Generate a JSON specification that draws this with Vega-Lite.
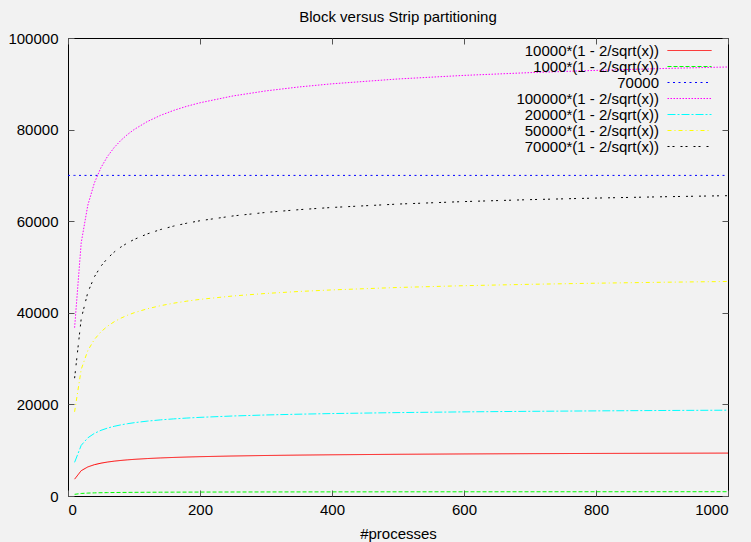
{
  "$schema": "https://vega.github.io/schema/vega-lite/v6.json",
  "width": 660,
  "height": 458,
  "autosize": {"type": "none"},
  "padding": {"left": 68, "top": 38, "right": 23, "bottom": 46},
  "background": "#f2f2f2",
  "title": {"text": "Block versus Strip partitioning", "fontSize": 15, "font": "Liberation Sans", "fontWeight": "normal", "color": "#000", "frame": "group", "offset": 6, "anchor": "middle"},
  "data": {"values": [
    {"x": 0, "c70000": 70000},
    {"x": 10, "k1000": 368, "k10000": 3675, "k20000": 7351, "k50000": 18377, "k70000": 25728, "k100000": 36754, "c70000": 70000},
    {"x": 20, "k1000": 553, "k10000": 5528, "k20000": 11056, "k50000": 27639, "k70000": 38695, "k100000": 55279, "c70000": 70000},
    {"x": 30, "k1000": 635, "k10000": 6349, "k20000": 12697, "k50000": 31743, "k70000": 44440, "k100000": 63485, "c70000": 70000},
    {"x": 40, "k1000": 684, "k10000": 6838, "k20000": 13675, "k50000": 34189, "k70000": 47864, "k100000": 68377, "c70000": 70000},
    {"x": 50, "k1000": 717, "k10000": 7172, "k20000": 14343, "k50000": 35858, "k70000": 50201, "k100000": 71716, "c70000": 70000},
    {"x": 60, "k1000": 742, "k10000": 7418, "k20000": 14836, "k50000": 37090, "k70000": 51926, "k100000": 74180, "c70000": 70000},
    {"x": 70, "k1000": 761, "k10000": 7610, "k20000": 15219, "k50000": 38048, "k70000": 53267, "k100000": 76095, "c70000": 70000},
    {"x": 80, "k1000": 776, "k10000": 7764, "k20000": 15528, "k50000": 38820, "k70000": 54347, "k100000": 77639, "c70000": 70000},
    {"x": 90, "k1000": 789, "k10000": 7892, "k20000": 15784, "k50000": 39459, "k70000": 55243, "k100000": 78918, "c70000": 70000},
    {"x": 100, "k1000": 800, "k10000": 8000, "k20000": 16000, "k50000": 40000, "k70000": 56000, "k100000": 80000, "c70000": 70000},
    {"x": 120, "k1000": 817, "k10000": 8174, "k20000": 16349, "k50000": 40872, "k70000": 57220, "k100000": 81743, "c70000": 70000},
    {"x": 140, "k1000": 831, "k10000": 8310, "k20000": 16619, "k50000": 41548, "k70000": 58168, "k100000": 83097, "c70000": 70000},
    {"x": 160, "k1000": 842, "k10000": 8419, "k20000": 16838, "k50000": 42094, "k70000": 58932, "k100000": 84189, "c70000": 70000},
    {"x": 180, "k1000": 851, "k10000": 8509, "k20000": 17019, "k50000": 42546, "k70000": 59565, "k100000": 85093, "c70000": 70000},
    {"x": 200, "k1000": 859, "k10000": 8586, "k20000": 17172, "k50000": 42929, "k70000": 60101, "k100000": 85858, "c70000": 70000},
    {"x": 250, "k1000": 874, "k10000": 8735, "k20000": 17470, "k50000": 43675, "k70000": 61146, "k100000": 87351, "c70000": 70000},
    {"x": 300, "k1000": 885, "k10000": 8845, "k20000": 17691, "k50000": 44226, "k70000": 61917, "k100000": 88453, "c70000": 70000},
    {"x": 350, "k1000": 893, "k10000": 8931, "k20000": 17862, "k50000": 44655, "k70000": 62517, "k100000": 89310, "c70000": 70000},
    {"x": 400, "k1000": 900, "k10000": 9000, "k20000": 18000, "k50000": 45000, "k70000": 63000, "k100000": 90000, "c70000": 70000},
    {"x": 500, "k1000": 911, "k10000": 9106, "k20000": 18211, "k50000": 45528, "k70000": 63739, "k100000": 91056, "c70000": 70000},
    {"x": 600, "k1000": 918, "k10000": 9184, "k20000": 18367, "k50000": 45918, "k70000": 64285, "k100000": 91835, "c70000": 70000},
    {"x": 700, "k1000": 924, "k10000": 9244, "k20000": 18488, "k50000": 46220, "k70000": 64709, "k100000": 92441, "c70000": 70000},
    {"x": 800, "k1000": 929, "k10000": 9293, "k20000": 18586, "k50000": 46464, "k70000": 65050, "k100000": 92929, "c70000": 70000},
    {"x": 900, "k1000": 933, "k10000": 9333, "k20000": 18667, "k50000": 46667, "k70000": 65333, "k100000": 93333, "c70000": 70000},
    {"x": 1000, "k1000": 937, "k10000": 9368, "k20000": 18735, "k50000": 46838, "k70000": 65573, "k100000": 93675, "c70000": 70000}
  ]},
  "transform": [
    {"fold": ["k10000", "k1000", "c70000", "k100000", "k20000", "k50000", "k70000"], "as": ["series", "y"]},
    {"filter": "isValid(datum.y)"}
  ],
  "layer": [
    {
      "mark": {"type": "line", "strokeWidth": 1, "interpolate": "linear"},
      "encoding": {
        "x": {"field": "x", "type": "quantitative",
          "scale": {"domain": [0, 1000], "nice": false, "zero": false},
          "axis": {"orient": "bottom", "values": [0, 200, 400, 600, 800, 1000], "format": "d", "title": "#processes", "grid": false, "domain": false, "tickSize": -6, "labelPadding": 12, "titlePadding": 9}},
        "y": {"field": "y", "type": "quantitative",
          "scale": {"domain": [0, 100000], "nice": false},
          "axis": {"orient": "left", "values": [0, 20000, 40000, 60000, 80000, 100000], "title": null, "grid": false, "domain": false, "tickSize": -6, "labelPadding": 16, "format": "d"}},
        "color": {"field": "series", "type": "nominal",
          "scale": {"domain": ["k10000", "k1000", "c70000", "k100000", "k20000", "k50000", "k70000"],
                    "range": ["#ff0000", "#00ff00", "#0000ff", "#ff00ff", "#00ffff", "#ffff00", "#000000"]},
          "legend": {"title": null,
            "labelExpr": "datum.label == 'c70000' ? '70000' : slice(datum.label, 1) + '*(1 - 2/sqrt(x))'",
            "encode": {"symbols": {"update": {"stroke": {"scale": "color", "field": "value"}, "fill": {"value": "transparent"}}}}}},
        "strokeDash": {"field": "series", "type": "nominal",
          "scale": {"domain": ["k10000", "k1000", "c70000", "k100000", "k20000", "k50000", "k70000"],
                    "range": [[1, 0], [4, 2], [2, 3.5], [1.5, 1.5], [8, 2, 2, 2], [4, 3, 1, 3], [2, 3, 2, 6]]},
          "legend": {"title": null,
            "labelExpr": "datum.label == 'c70000' ? '70000' : slice(datum.label, 1) + '*(1 - 2/sqrt(x))'",
            "encode": {"symbols": {"update": {"stroke": {"scale": "color", "field": "value"}, "fill": {"value": "transparent"}}}}}}
      }
    },
    {
      "transform": [{"filter": "false"}],
      "mark": {"type": "line"},
      "encoding": {
        "x": {"field": "x", "type": "quantitative",
          "axis": {"orient": "top", "values": [0, 200, 400, 600, 800, 1000], "labels": false, "title": null, "grid": false, "domain": false, "tickSize": -6}},
        "y": {"field": "y", "type": "quantitative",
          "axis": {"orient": "right", "values": [0, 20000, 40000, 60000, 80000, 100000], "labels": false, "title": null, "grid": false, "domain": false, "tickSize": -6}}
      }
    }
  ],
  "resolve": {"axis": {"x": "independent", "y": "independent"}},
  "config": {
    "view": {"stroke": "#000000", "strokeWidth": 1},
    "font": "Liberation Sans",
    "axis": {"labelFont": "Liberation Sans", "labelFontSize": 15, "labelColor": "#000", "titleFont": "Liberation Sans", "titleFontSize": 15, "titleFontWeight": "normal", "titleColor": "#000", "tickColor": "#555", "tickWidth": 1},
    "legend": {
      "orient": "none", "legendX": 614, "legendY": 5, "padding": 0,
      "symbolType": "M-4,0H4", "symbolSize": 121, "symbolStrokeWidth": 1,
      "rowPadding": 0,
      "labelAlign": "right", "labelOffset": -38, "labelFontSize": 15, "labelFont": "Liberation Sans", "labelColor": "#000", "labelLimit": 0, "labelBaseline": "middle"
    }
  }
}
